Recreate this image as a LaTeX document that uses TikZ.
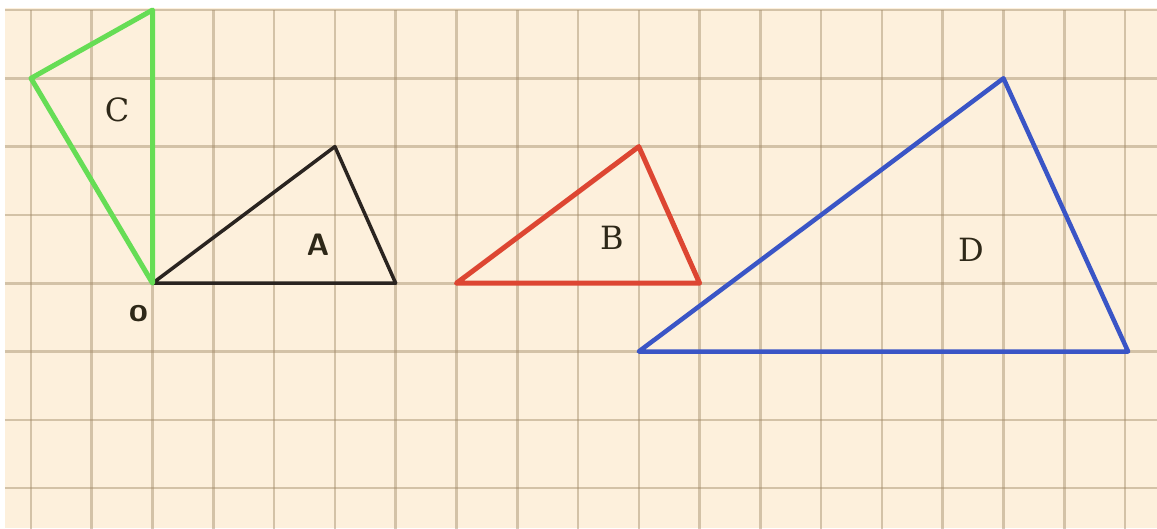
\documentclass[tikz,border=0pt]{standalone}
\usepackage{tikz}
\usepackage{fontspec}
\newfontfamily\lblserif{DejaVu Serif}
\definecolor{paper}{HTML}{FDF0DC}
\definecolor{gridc}{HTML}{A08A68}
\definecolor{tgreen}{HTML}{66DD55}
\definecolor{tred}{HTML}{DD4632}
\definecolor{tblue}{HTML}{3A55C6}
\definecolor{tblack}{HTML}{2A2420}
\definecolor{lbl}{HTML}{2E2818}
\tikzset{
  gridline/.style={draw=gridc, line width=2.6pt, opacity=0.45},
  tri/.style={line width=#1, line join=round, line cap=round},
  serlbl/.style={inner sep=0pt, text=lbl, font=\fontsize{32}{32}\selectfont\lblserif},
  sanslbl/.style={inner sep=0pt, text=lbl, font=\fontsize{31}{31}\selectfont\sffamily\bfseries},
}
\begin{document}
\begin{tikzpicture}[x=1pt,y=-1pt]
\useasboundingbox (0,0) rectangle (1157,528);
\fill[white] (0,0) rectangle (1157,528);
\fill[paper] (5,8) rectangle (1157,528);
% grid in grid units
\begin{scope}[shift={(31,10)}, x=60.78pt, y=-68.3pt]
  \foreach \i in {0,...,18} \draw[gridline] (\i,0) -- (\i,7.6);
  \foreach \j in {0,...,7} \draw[gridline] (-0.43,\j) -- (18.6,\j);
  % vertices
  \coordinate (O) at (2,4);
  \coordinate (A1) at (5,2);
  \coordinate (A2) at (6,4);
  \coordinate (C1) at (2,0);
  \coordinate (C2) at (0,1);
  \coordinate (B0) at (7,4);
  \coordinate (B1) at (10,2);
  \coordinate (B2) at (11,4);
  \coordinate (D0) at (10,5);
  \coordinate (D1) at (16,1);
  \coordinate (D2) at (18.05,5);
  \draw[tri=3.5pt, draw=tblack] (O) -- (A1) -- (A2) -- cycle;
  \draw[tri=5pt, draw=tgreen] (O) -- (C1) -- (C2) -- cycle;
  \draw[tri=5pt, draw=tred] (B0) -- (B1) -- (B2) -- cycle;
  \draw[tri=4.5pt, draw=tblue] (D0) -- (D1) -- (D2) -- cycle;
\end{scope}
\node[serlbl] (lC) at (117,110) {C};
\node[sanslbl] (lA) at (318,245) {A};
\node[serlbl] (lB) at (612,238) {B};
\node[serlbl] (lD) at (971,250) {D};
\node[sanslbl, font=\fontsize{34}{34}\selectfont\sffamily\bfseries] (lO) at (139,314) {o};
\end{tikzpicture}
\end{document}
